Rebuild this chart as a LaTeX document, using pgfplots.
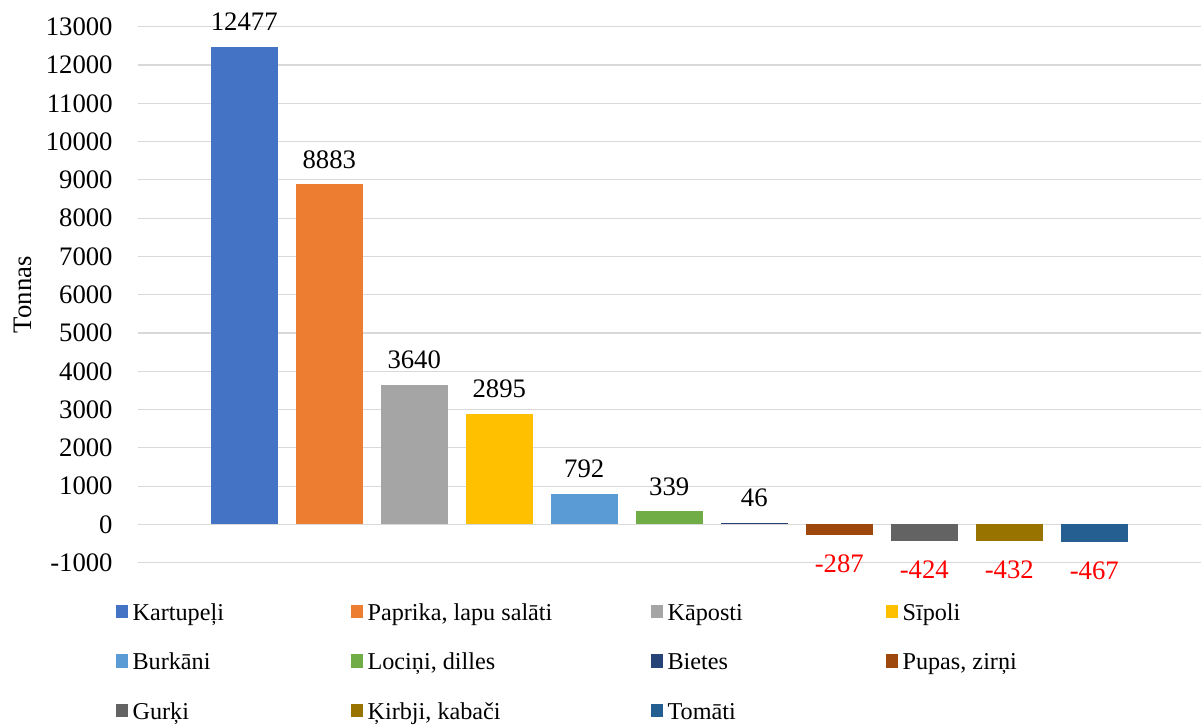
\documentclass[border=0pt]{standalone}
\usepackage{pgfplots}
\pgfplotsset{compat=1.18}
\usepackage{fontspec}
\setmainfont{Liberation Serif}
\definecolor{c1}{HTML}{4472C4}
\definecolor{c2}{HTML}{ED7D31}
\definecolor{c3}{HTML}{A5A5A5}
\definecolor{c4}{HTML}{FFC000}
\definecolor{c5}{HTML}{5B9BD5}
\definecolor{c6}{HTML}{70AD47}
\definecolor{c7}{HTML}{264478}
\definecolor{c8}{HTML}{9E480E}
\definecolor{c9}{HTML}{636363}
\definecolor{c10}{HTML}{997300}
\definecolor{c11}{HTML}{255E91}
\definecolor{gridc}{HTML}{D9D9D9}
\newcommand\f{\fontsize{13.35pt}{16pt}\selectfont}
\newcommand\lf{\fontsize{12.1pt}{14.5pt}\selectfont}
\pgfplotsset{/pgf/number format/.cd, 1000 sep={}, assume math mode=true}
\pgfplotsset{
  pos/.style={nodes near coords, every node near coord/.append style={anchor=south, inner sep=0pt, yshift=7.8pt, text=black}},
  neg/.style={nodes near coords, every node near coord/.append style={anchor=north, inner sep=0pt, yshift=-9.65pt, text=red}},
}
\newcommand\ca[1]{\makebox[109.05pt][l]{#1}}
\newcommand\cb[1]{\makebox[141.55pt][l]{#1}}
\begin{document}
\f
\begin{tikzpicture}
\begin{axis}[
  scale only axis, width=531.25pt, height=268pt,
  xmin=-1.25, xmax=11.25, ymin=-1000, ymax=13000,
  ytick distance=1000, xtick=\empty,
  scaled y ticks=false, clip=false,
  axis line style={draw=none}, major tick style={draw=none},
  ymajorgrids, grid style={color=gridc, line width=0.6pt},
  yticklabel style={anchor=east, inner sep=0pt, xshift=-12.5pt},
  ylabel={Tonnas},
  ylabel style={at={(axis description cs:-0.10005,0.5)}, anchor=base, inner sep=0pt},
  every axis plot/.append style={ybar, bar width=33.5pt, bar shift=0pt, draw=none,
    legend image code/.code={\fill[##1] (0pt,1.2pt) rectangle (6.35pt,7.85pt); \path (8.45pt,0pt);}},
  legend columns=4,
  legend style={at={(axis description cs:0,0)}, anchor=north west, xshift=-11.15pt, yshift=-19pt,
    draw=none, fill=none, inner sep=0pt, outer sep=0pt, column sep=0pt, row sep=11.15pt, font=\lf,
    /tikz/every odd column/.style={column sep=0pt}, /tikz/every even column/.style={column sep=0pt},
    nodes={inner sep=0pt, text height=10pt, text depth=3.5pt, anchor=base west}},
]
\addplot[fill=c1, pos] coordinates {(0,12477)};
\addlegendentry{\ca{Kartupeļi}}
\addplot[fill=c2, pos] coordinates {(1,8883)};
\addlegendentry{\cb{Paprika, lapu salāti}}
\addplot[fill=c3, pos] coordinates {(2,3640)};
\addlegendentry{\ca{Kāposti}}
\addplot[fill=c4, pos] coordinates {(3,2895)};
\addlegendentry{Sīpoli}
\addplot[fill=c5, pos] coordinates {(4,792)};
\addlegendentry{\ca{Burkāni}}
\addplot[fill=c6, pos] coordinates {(5,339)};
\addlegendentry{\cb{Lociņi, dilles}}
\addplot[fill=c7, pos] coordinates {(6,46)};
\addlegendentry{\ca{Bietes}}
\addplot[fill=c8, neg] coordinates {(7,-287)};
\addlegendentry{Pupas, zirņi}
\addplot[fill=c9, neg] coordinates {(8,-424)};
\addlegendentry{\ca{Gurķi}}
\addplot[fill=c10, neg] coordinates {(9,-432)};
\addlegendentry{\cb{Ķirbji, kabači}}
\addplot[fill=c11, neg] coordinates {(10,-467)};
\addlegendentry{\ca{Tomāti}}
\coordinate (SW) at (rel axis cs:0,0);
\coordinate (NE) at (rel axis cs:1,1);
\end{axis}
\pgfresetboundingbox
\path ([shift={(-69pt,-81.65pt)}]SW) rectangle ([shift={(0.25pt,13.35pt)}]NE);
\end{tikzpicture}
\end{document}
